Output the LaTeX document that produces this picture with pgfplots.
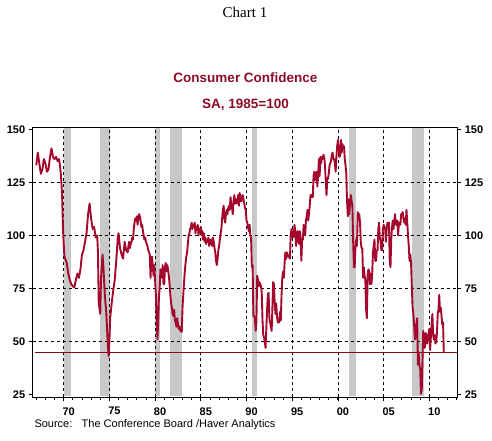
\documentclass[border=0pt]{standalone}
\usepackage{fontspec}
\setmainfont{Liberation Sans}
\newfontfamily\timesfont{Liberation Serif}
\usepackage{pgfplots}
\pgfplotsset{compat=1.18}
\definecolor{linered}{RGB}{165,8,45}
\definecolor{titlered}{RGB}{140,12,40}
\definecolor{recgray}{RGB}{200,200,200}
\definecolor{hlred}{RGB}{130,10,25}
\begin{document}
\begin{tikzpicture}
\begin{axis}[
  set layers,
  at={(32.7pt,-397.3pt)}, anchor=south west,
  scale only axis, width=424.6pt, height=269.6pt,
  xmin=1966.61, xmax=2013.06, ymin=23.7, ymax=150.75,
  xtick={1970,1975,...,2010},
  xticklabels={70,75,80,85,90,95,00,05,10},
  minor xtick={1967,...,2013},
  ytick={50,75,100,125},
  extra y ticks={25,150},
  extra tick style={grid=none},
  ytick pos=left, xtick pos=bottom,
  tick align=outside,
  major tick length=4pt, minor tick length=2.5pt,
  xmajorgrids, ymajorgrids,
  major grid style={black, line width=0.7pt, dash pattern=on 3pt off 3pt},
  axis line style={black, line width=0.8pt},
  every tick/.style={black, line width=0.8pt},
  tick label style={font=\fontsize{11}{12}\selectfont\bfseries},
  /pgf/number format/assume math mode=true,
  xticklabel style={xshift=5pt, yshift=-2.5pt},
]
\addplot[on layer=axis background, fill=recgray, draw=none] coordinates {(1970.00,24.5) (1970.00,151) (1970.85,151) (1970.85,24.5)} -- cycle;
\addplot[on layer=axis background, fill=recgray, draw=none] coordinates {(1973.92,24.5) (1973.92,151) (1975.08,151) (1975.08,24.5)} -- cycle;
\addplot[on layer=axis background, fill=recgray, draw=none] coordinates {(1980.04,24.5) (1980.04,151) (1980.50,151) (1980.50,24.5)} -- cycle;
\addplot[on layer=axis background, fill=recgray, draw=none] coordinates {(1981.62,24.5) (1981.62,151) (1982.90,151) (1982.90,24.5)} -- cycle;
\addplot[on layer=axis background, fill=recgray, draw=none] coordinates {(1990.58,24.5) (1990.58,151) (1991.12,151) (1991.12,24.5)} -- cycle;
\addplot[on layer=axis background, fill=recgray, draw=none] coordinates {(2001.20,24.5) (2001.20,151) (2001.95,151) (2001.95,24.5)} -- cycle;
\addplot[on layer=axis background, fill=recgray, draw=none] coordinates {(2008.05,24.5) (2008.05,151) (2009.45,151) (2009.45,24.5)} -- cycle;
\addplot[hlred, line width=0.9pt] coordinates {(1966.9,44.7) (2013.1,44.7)};
\addplot[linered, line width=1.9pt, line join=round] coordinates {
(1967.000,133) (1967.167,139) (1967.333,134) (1967.500,129) (1967.667,131) (1967.833,136)
(1968.000,134) (1968.167,130) (1968.333,131) (1968.500,137) (1968.667,141) (1968.833,137)
(1969.000,136) (1969.167,137) (1969.333,135) (1969.500,136) (1969.667,130) (1969.750,125) (1969.833,118) (1969.917,104)
(1970.000,96) (1970.083,90) (1970.167,89) (1970.333,87) (1970.500,82) (1970.667,79) (1970.833,77)
(1971.000,76) (1971.167,75.5) (1971.333,79) (1971.500,82) (1971.667,80) (1971.833,84)
(1972.000,91) (1972.167,93) (1972.333,97) (1972.500,101) (1972.667,110) (1972.833,115)
(1973.000,108) (1973.167,103) (1973.333,104) (1973.500,99) (1973.667,100) (1973.750,92) (1973.833,68)
(1974.000,63) (1974.083,80) (1974.250,91) (1974.333,86) (1974.500,72) (1974.667,63) (1974.833,48) (1974.917,43.2)
(1975.000,50) (1975.083,61) (1975.250,68) (1975.417,74) (1975.583,79) (1975.750,88) (1975.917,99)
(1976.000,101) (1976.167,94) (1976.333,91) (1976.500,89) (1976.667,97) (1976.833,93)
(1977.000,92) (1977.083,95) (1977.167,97) (1977.250,94) (1977.333,96) (1977.417,97) (1977.500,99) (1977.583,98) (1977.667,103) (1977.750,106) (1977.833,108) (1977.917,107)
(1978.000,109) (1978.083,105) (1978.167,108) (1978.250,110) (1978.333,109) (1978.417,107) (1978.500,104) (1978.583,105) (1978.667,102) (1978.750,100) (1978.833,98) (1978.917,99)
(1979.000,97) (1979.083,96) (1979.167,95) (1979.250,93) (1979.333,92) (1979.417,91) (1979.500,80) (1979.583,88) (1979.667,90) (1979.750,85) (1979.833,81) (1979.917,86)
(1980.000,79) (1980.083,72) (1980.167,62) (1980.250,51) (1980.333,58) (1980.417,71) (1980.500,75) (1980.583,84) (1980.667,80) (1980.750,82) (1980.833,86) (1980.917,77)
(1981.000,77) (1981.083,85) (1981.167,87) (1981.250,83) (1981.333,86) (1981.417,84) (1981.500,81) (1981.583,77) (1981.667,72) (1981.750,68) (1981.833,66) (1981.917,63)
(1982.000,62) (1982.083,65) (1982.167,60) (1982.250,59) (1982.333,57) (1982.417,61) (1982.500,58) (1982.583,56) (1982.667,57) (1982.750,55) (1982.833,55) (1982.917,54.5)
(1983.000,66) (1983.083,72) (1983.167,78) (1983.250,83) (1983.333,87) (1983.417,90) (1983.500,92) (1983.583,96) (1983.667,100) (1983.750,101) (1983.833,103) (1983.917,104)
(1984.000,106) (1984.083,103) (1984.167,105) (1984.250,104) (1984.333,106) (1984.417,101) (1984.500,104) (1984.583,103) (1984.667,105) (1984.750,100) (1984.833,103) (1984.917,102)
(1985.000,104) (1985.083,100) (1985.167,102) (1985.250,98) (1985.333,101) (1985.417,97) (1985.500,99) (1985.583,96) (1985.667,98) (1985.750,97) (1985.833,99) (1985.917,95)
(1986.000,98) (1986.083,96) (1986.167,98) (1986.250,95) (1986.333,99) (1986.417,97) (1986.500,94) (1986.583,92) (1986.667,88) (1986.750,86) (1986.833,89) (1986.917,93)
(1987.000,95) (1987.083,98) (1987.167,101) (1987.250,103) (1987.333,108) (1987.417,112) (1987.500,114) (1987.583,108) (1987.667,106) (1987.750,110) (1987.833,112) (1987.917,110)
(1988.000,113) (1988.083,114) (1988.167,112) (1988.250,118) (1988.333,115) (1988.417,113) (1988.500,110) (1988.583,116) (1988.667,119) (1988.750,115) (1988.833,117) (1988.917,115)
(1989.000,117) (1989.083,119) (1989.167,114) (1989.250,120) (1989.333,118) (1989.417,116) (1989.500,118) (1989.583,119) (1989.667,117) (1989.750,115) (1989.833,113) (1989.917,112)
(1990.000,107) (1990.083,106) (1990.167,104) (1990.250,102) (1990.333,105) (1990.417,100) (1990.500,99) (1990.583,85) (1990.667,86) (1990.750,62) (1990.833,62) (1990.917,61)
(1991.000,55) (1991.083,59) (1991.167,81) (1991.250,79) (1991.333,76) (1991.417,78) (1991.500,77) (1991.583,76) (1991.667,73) (1991.750,60) (1991.833,53) (1991.917,52)
(1992.000,50) (1992.083,47) (1992.167,56) (1992.250,65) (1992.333,72) (1992.417,73) (1992.500,61) (1992.583,59) (1992.667,57) (1992.750,55) (1992.833,66) (1992.917,78)
(1993.000,77) (1993.083,68) (1993.167,63) (1993.250,68) (1993.333,62) (1993.417,59) (1993.500,59) (1993.583,59) (1993.667,64) (1993.750,60) (1993.833,72) (1993.917,80)
(1994.000,83) (1994.083,80) (1994.167,87) (1994.250,92) (1994.333,89) (1994.417,92) (1994.500,91) (1994.583,90) (1994.667,90) (1994.750,89) (1994.833,100) (1994.917,103)
(1995.000,101) (1995.083,99) (1995.167,100) (1995.250,105) (1995.333,102) (1995.417,95) (1995.500,101) (1995.583,102) (1995.667,97) (1995.750,96) (1995.833,102) (1995.917,99)
(1996.000,88) (1996.083,98) (1996.167,98) (1996.250,105) (1996.333,103) (1996.417,100) (1996.500,107) (1996.583,109) (1996.667,112) (1996.750,107) (1996.833,110) (1996.917,114)
(1997.000,119) (1997.083,119) (1997.167,118) (1997.250,118) (1997.333,128) (1997.417,130) (1997.500,126) (1997.583,128) (1997.667,130) (1997.750,123) (1997.833,128) (1997.917,136)
(1998.000,128) (1998.083,137) (1998.167,134) (1998.250,137) (1998.333,136) (1998.417,138) (1998.500,137) (1998.583,133) (1998.667,126) (1998.750,119) (1998.833,126) (1998.917,127)
(1999.000,129) (1999.083,133) (1999.167,134) (1999.250,135) (1999.333,138) (1999.417,139) (1999.500,136) (1999.583,136) (1999.667,134) (1999.750,130) (1999.833,137) (1999.917,142)
(2000.000,145) (2000.083,141) (2000.167,137) (2000.250,138) (2000.333,145) (2000.417,139) (2000.500,143) (2000.583,141) (2000.667,142) (2000.750,136) (2000.833,133) (2000.917,129)
(2001.000,116) (2001.083,109) (2001.167,117) (2001.250,110) (2001.333,116) (2001.417,119) (2001.500,116) (2001.583,114) (2001.667,97) (2001.750,85) (2001.833,85) (2001.917,95)
(2002.000,98) (2002.083,95) (2002.167,111) (2002.250,108) (2002.333,110) (2002.417,106) (2002.500,97) (2002.583,94) (2002.667,94) (2002.750,80) (2002.833,85) (2002.917,81)
(2003.000,79) (2003.083,65) (2003.167,61) (2003.250,81) (2003.333,84) (2003.417,83) (2003.500,77) (2003.583,82) (2003.667,77) (2003.750,82) (2003.833,92) (2003.917,95)
(2004.000,98) (2004.083,88) (2004.167,88) (2004.250,93) (2004.333,93) (2004.417,103) (2004.500,106) (2004.583,99) (2004.667,97) (2004.750,93) (2004.833,93) (2004.917,103)
(2005.000,105) (2005.083,104) (2005.167,103) (2005.250,97) (2005.333,103) (2005.417,106) (2005.500,104) (2005.583,106) (2005.667,88) (2005.750,85) (2005.833,98) (2005.917,104)
(2006.000,107) (2006.083,103) (2006.167,107) (2006.250,110) (2006.333,105) (2006.417,105) (2006.500,107) (2006.583,100) (2006.667,106) (2006.750,105) (2006.833,105) (2006.917,110)
(2007.000,110) (2007.083,111) (2007.167,108) (2007.250,106) (2007.333,108) (2007.417,105) (2007.500,112) (2007.583,106) (2007.667,100) (2007.750,95) (2007.833,88) (2007.917,91)
(2008.000,87) (2008.083,76) (2008.167,66) (2008.250,63) (2008.333,58) (2008.417,51) (2008.500,52) (2008.583,58) (2008.667,61) (2008.750,39) (2008.833,45) (2008.917,39)
(2009.000,37) (2009.083,25.3) (2009.167,27) (2009.250,41) (2009.333,55) (2009.417,49) (2009.500,47) (2009.583,54) (2009.667,53) (2009.750,49) (2009.833,51) (2009.917,54)
(2010.000,56) (2010.083,46) (2010.167,52) (2010.250,58) (2010.333,63) (2010.417,53) (2010.500,51) (2010.583,53) (2010.667,49) (2010.750,50) (2010.833,54) (2010.917,63)
(2011.000,65) (2011.083,72) (2011.167,64) (2011.250,66) (2011.333,62) (2011.417,58) (2011.500,59) (2011.583,44.5)
};
\end{axis}
\begin{axis}[
  at={(32.7pt,-397.3pt)}, anchor=south west,
  scale only axis, width=424.6pt, height=269.6pt,
  xmin=1966.61, xmax=2013.06, ymin=23.7, ymax=150.75,
  hide x axis,
  ytick={25,50,...,150},
  ytick pos=right, yticklabel pos=right,
  tick align=outside, major tick length=4pt,
  axis line style={black, line width=0.8pt},
  every tick/.style={black, line width=0.8pt},
  tick label style={font=\fontsize{11}{12}\selectfont\bfseries},
  /pgf/number format/assume math mode=true,
]
\addplot[draw=none] coordinates {(1980,50) (2000,100)};
\end{axis}
\node[font=\timesfont\fontsize{15}{16}\selectfont] at (245pt,-12.5pt) {Chart 1};
\node[font=\bfseries\fontsize{13.5}{15}\selectfont, text=titlered] at (245.5pt,-77.7pt) {Consumer Confidence};
\node[font=\bfseries\fontsize{13.5}{15}\selectfont, text=titlered] at (245.5pt,-105pt) {SA, 1985=100};
\node[anchor=west, font=\fontsize{11}{12}\selectfont, inner sep=0pt] at (34.3pt,-424.3pt) {Source:\hspace{9.3pt}The Conference Board /Haver Analytics};
\path (0,0) rectangle (492pt,-440pt);
\end{tikzpicture}
\end{document}
